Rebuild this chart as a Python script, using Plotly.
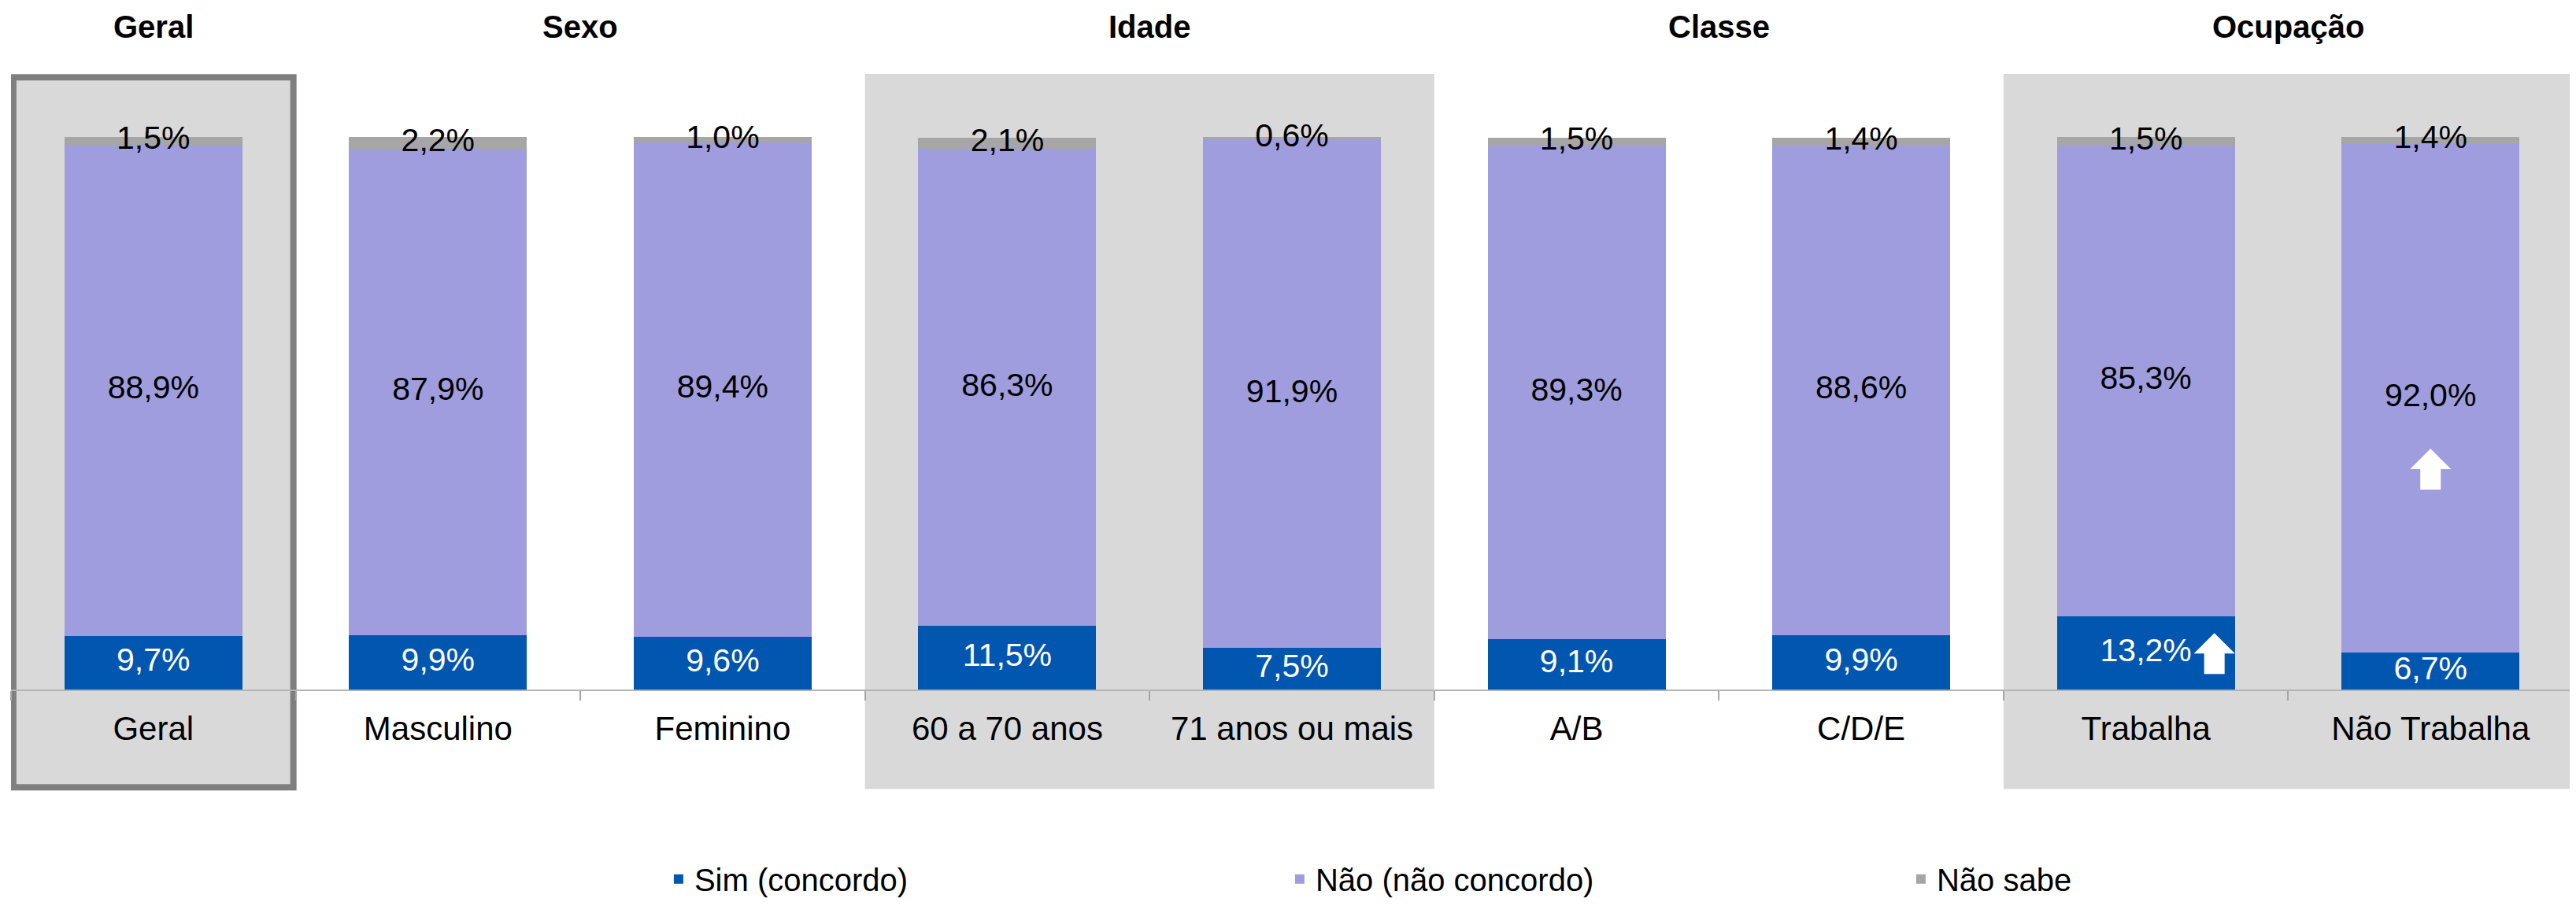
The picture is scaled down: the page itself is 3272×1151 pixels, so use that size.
import plotly.graph_objects as go

categories = ["Geral", "Masculino", "Feminino", "60 a 70 anos", "71 anos ou mais",
              "A/B", "C/D/E", "Trabalha", "Não Trabalha"]
sim = [9.7, 9.9, 9.6, 11.5, 7.5, 9.1, 9.9, 13.2, 6.7]
nao = [88.9, 87.9, 89.4, 86.3, 91.9, 89.3, 88.6, 85.3, 92.0]
nao_sabe = [1.5, 2.2, 1.0, 2.1, 0.6, 1.5, 1.4, 1.5, 1.4]
series_names = ["Sim (concordo)", "Não (não concordo)", "Não sabe"]
groups = ["Geral", "Sexo", "Idade", "Classe", "Ocupação"]
group_spans = [(0, 0), (1, 2), (3, 4), (5, 6), (7, 8)]
shaded_groups = ["Idade", "Ocupação"]
# significance arrows: (category, axis value where the arrow head starts, pixel x shift)
arrows = [("Trabalha", 6.5, 87), ("Não Trabalha", 39.9, 0)]

C_SIM = "#0156AF"
C_NAO = "#9F9DDE"
C_NS = "#A6A6A6"
SHADE = "#D9D9D9"
FONT = "Liberation Sans, Arial, sans-serif"


def fmt(v):
    return f"{v:.1f}".replace(".", ",") + "%"


def arrow_path(dx):
    pts = [(-13, -26), (13, -26), (13, 0), (26, 0), (0, 26), (-26, 0), (-13, 0)]
    return "M" + " L".join(f"{px + dx},{py}" for px, py in pts) + " Z"


fig = go.Figure()
for name, vals, col in zip(series_names, [sim, nao, nao_sabe], [C_SIM, C_NAO, C_NS]):
    fig.add_trace(go.Bar(x=categories, y=vals, name=name, marker_color=col,
                         marker_line_width=0, width=0.625, hoverinfo="skip"))

# labels centred in each segment
base = [0.0] * len(categories)
for vals, tc in zip([sim, nao, nao_sabe], ["white", "black", "black"]):
    mids = [b + v / 2 for b, v in zip(base, vals)]
    fig.add_trace(go.Scatter(x=categories, y=mids, mode="text", text=[fmt(v) for v in vals],
                             textfont=dict(family=FONT, size=41, color=tc),
                             showlegend=False, hoverinfo="skip", cliponaxis=False))
    base = [b + v for b, v in zip(base, vals)]

shapes = []
# Geral framed box
shapes.append(dict(type="rect", xref="x", yref="paper", x0=-0.492, x1=0.492,
                   y0=-0.177, y1=1.108, fillcolor=SHADE,
                   line=dict(color="#7F7F7F", width=8), layer="below"))
for g, (a, b) in zip(groups, group_spans):
    if g in shaded_groups:
        shapes.append(dict(type="rect", xref="x", yref="paper", x0=a - 0.5, x1=b + 0.5,
                           y0=-0.180, y1=1.114, fillcolor=SHADE, line_width=0, layer="below"))
for cat, yv, dx in arrows:
    idx = categories.index(cat)
    shapes.append(dict(type="path", xref="x", yref="y", xsizemode="pixel", ysizemode="pixel",
                       xanchor=idx, yanchor=yv, path=arrow_path(dx),
                       fillcolor="white", line_width=0, layer="above"))

annotations = []
for g, (a, b) in zip(groups, group_spans):
    annotations.append(dict(x=(a + b) / 2, y=1.2, xref="x", yref="paper", text=f"<b>{g}</b>",
                            showarrow=False, font=dict(family=FONT, size=40, color="black"),
                            xanchor="center", yanchor="middle"))

fig.update_layout(
    width=3260, height=1135,
    margin=dict(l=6, r=0, t=166, b=267, autoexpand=False),
    barmode="stack", bargap=0.375,
    plot_bgcolor="rgba(0,0,0,0)", paper_bgcolor="white",
    font=dict(family=FONT, size=40, color="black"),
    shapes=shapes, annotations=annotations,
    legend=dict(orientation="h", xref="container", yref="paper",
                x=0.2558, y=-0.343, xanchor="left", yanchor="middle",
                font=dict(family=FONT, size=40, color="black"), entrywidth=744,
                traceorder="normal", bgcolor="rgba(0,0,0,0)"),
    showlegend=True,
)
fig.update_xaxes(type="category", categoryorder="array", categoryarray=categories,
                 range=[-0.5, 8.5], showline=True, linecolor="#B3B3B3", linewidth=2,
                 ticks="outside", tickson="boundaries", ticklen=12, tickwidth=2,
                 tickcolor="#A6A6A6", tickfont=dict(family=FONT, size=42, color="black"),
                 ticklabelstandoff=12, showgrid=False, zeroline=False, fixedrange=True)
fig.update_yaxes(range=[0, 100], visible=False, showgrid=False, zeroline=False, fixedrange=True)

fig.write_html("out.html")
